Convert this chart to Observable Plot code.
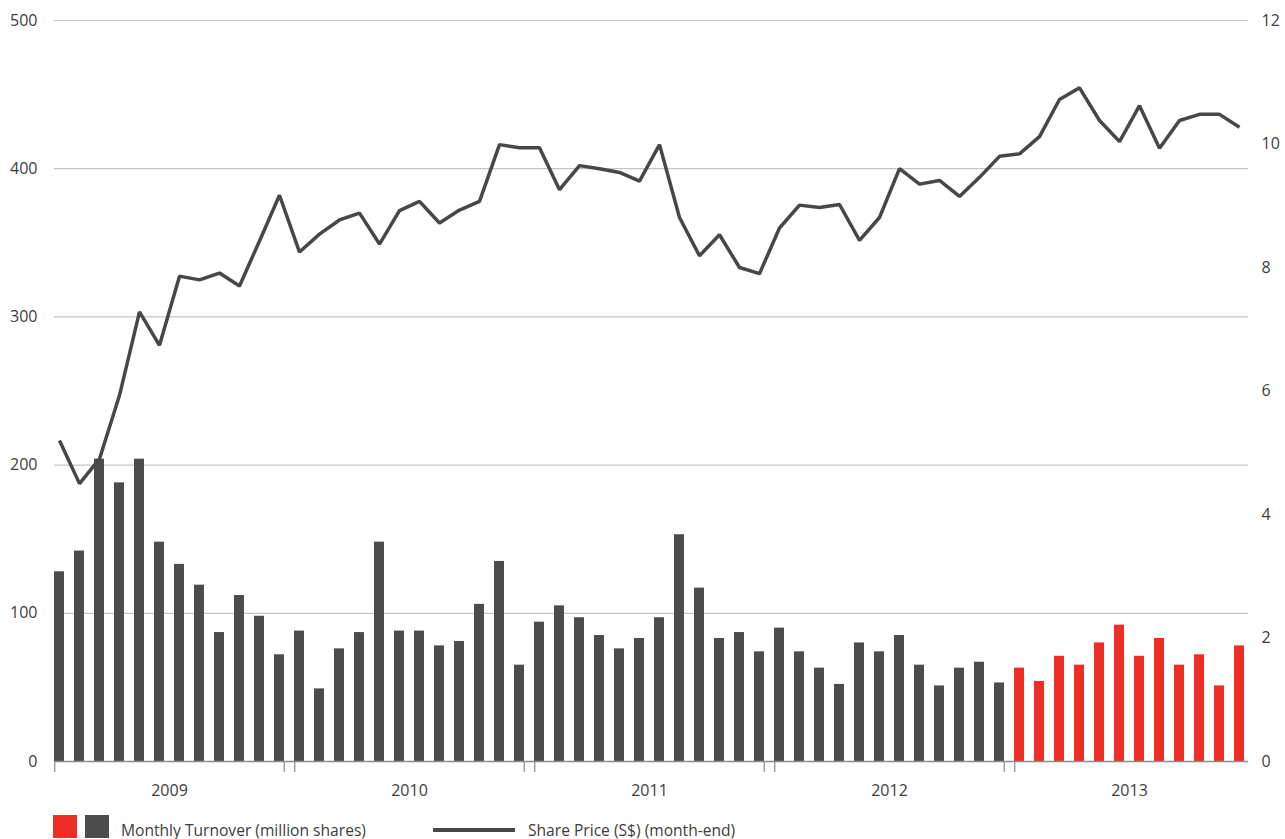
<!DOCTYPE html>
<html>
<head>
<meta charset="utf-8">
<script src="https://cdn.jsdelivr.net/npm/d3@7"></script>
<script src="https://cdn.jsdelivr.net/npm/@observablehq/plot@0.6"></script>
<style>
  html, body { margin: 0; padding: 0; background: #fff; overflow: hidden; }
  #wrap { position: relative; width: 1285px; height: 839px; font-family: "Open Sans", sans-serif; color: #3d3d3d; }
  #chart { position: absolute; left: 0; top: 0; }
  .legend { position: absolute; top: 815px; left: 0; width: 1285px; height: 24px; font-size: 15.6px; }
  .sw { position: absolute; top: 0; width: 24px; height: 23px; }
  .ln { position: absolute; top: 13px; width: 82px; height: 4px; background: #474747; }
  .lt { position: absolute; top: 6px; line-height: 18px; white-space: nowrap; }
</style>
</head>
<body>
<div id="wrap">
  <div id="chart"></div>
  <div class="legend">
    <div class="sw" style="left:53px;background:#ee2d24"></div>
    <div class="sw" style="left:85px;background:#4b4c4e"></div>
    <div class="lt" style="left:121px">Monthly Turnover (million shares)</div>
    <div class="ln" style="left:433px"></div>
    <div class="lt" style="left:528px">Share Price (S$) (month-end)</div>
  </div>
</div>
<script>
const years = ["2009", "2010", "2011", "2012", "2013"];
const highlightYear = "2013";
const turnover = [
  128, 142, 204, 188, 204, 148, 133, 119, 87, 112, 98, 72,
  88, 49, 76, 87, 148, 88, 88, 78, 81, 106, 135, 65,
  94, 105, 97, 85, 76, 83, 97, 153, 117, 83, 87, 74,
  90, 74, 63, 52, 80, 74, 85, 65, 51, 63, 67, 53,
  63, 54, 71, 65, 80, 92, 71, 83, 65, 72, 51, 78
];
const price = [
  5.20, 4.50, 4.90, 5.93, 7.28, 6.74, 7.86, 7.80, 7.91, 7.70, 8.43, 9.17,
  8.25, 8.54, 8.77, 8.88, 8.38, 8.92, 9.07, 8.72, 8.93, 9.07, 9.99, 9.94,
  9.94, 9.26, 9.65, 9.60, 9.54, 9.40, 9.99, 8.81, 8.19, 8.53, 8.00, 7.90,
  8.64, 9.01, 8.97, 9.02, 8.44, 8.81, 9.60, 9.35, 9.41, 9.15, 9.46, 9.80,
  9.84, 10.12, 10.72, 10.91, 10.38, 10.04, 10.62, 9.93, 10.38, 10.48, 10.48, 10.27
];
const leftTicks = [0, 100, 200, 300, 400, 500];
const rightTicks = [0, 2, 4, 6, 8, 10, 12];

const k = 500 / 12; // price -> turnover axis
const data = turnover.map((v, i) => {
  const year = years[Math.floor(i / 12)];
  return { month: `${year}-${String(i % 12 + 1).padStart(2, "0")}`, year, turnover: v, price: price[i] };
});
const months = data.map(d => d.month);
const yearStarts = data.filter((d, i) => i % 12 === 0);
const yearEnds = data.filter((d, i) => i % 12 === 11 && i < data.length - 1);
const yearMids = data.filter((d, i) => i % 12 === 6);

const W = 1285, H = 805;
const mLeft = 54, mRight = 37, mTop = 20, mBottom = 44;
const bw = (W - mLeft - mRight) / (months.length - 0.48) * 0.52;

const chart = Plot.plot({
  width: W,
  height: H,
  marginLeft: mLeft,
  marginRight: mRight,
  marginTop: mTop,
  marginBottom: mBottom,
  style: { fontFamily: "Open Sans, sans-serif", fontSize: "16px", color: "#3d3d3d", background: "#fff" },
  x: { type: "band", domain: months, paddingInner: 0.48, paddingOuter: 0, align: 0, axis: null },
  y: { domain: [0, 500], axis: null },
  marks: [
    Plot.gridY(leftTicks.filter(t => t > 0), { stroke: "#c4c4c4", strokeOpacity: 1, strokeWidth: 1.2 }),
    Plot.axisY(leftTicks, { anchor: "left", label: null, tickSize: 0, tickPadding: 17, fontSize: 16 }),
    Plot.axisY(rightTicks.map(t => t * k), { anchor: "right", label: null, tickSize: 0, tickPadding: 13, fontSize: 16, tickFormat: d => String(Math.round(d / k)) }),
    Plot.barY(data, { x: "month", y: "turnover", fill: d => d.year === highlightYear ? "#ee2d24" : "#4b4c4e" }),
    Plot.ruleY([0], { stroke: "#8c8c8c", strokeWidth: 1.5 }),
    Plot.ruleX(yearStarts, { x: "month", dx: -bw / 2 + 0.5, y1: 0, y2: -7.5, stroke: "#8c8c8c", strokeWidth: 1.2 }),
    Plot.ruleX(yearEnds, { x: "month", dx: bw / 2 - 0.5, y1: 0, y2: -7.5, stroke: "#8c8c8c", strokeWidth: 1.2 }),
    Plot.text(yearMids, { x: "month", text: "year", y: 0, dy: 29, dx: -10, fontSize: 16, fill: "#3d3d3d" }),
    Plot.line(data, { x: "month", y: d => d.price * k, stroke: "#474747", strokeWidth: 3.5, strokeLinejoin: "miter", strokeLinecap: "butt" })
  ]
});
document.getElementById("chart").appendChild(chart);
</script>
</body>
</html>
